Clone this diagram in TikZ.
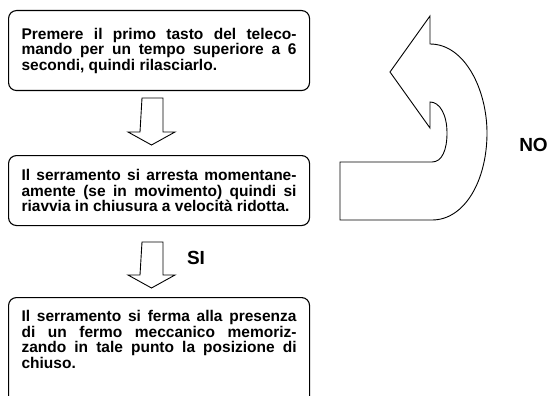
\documentclass[tikz,border=0pt]{standalone}
\usepackage{fontspec}
\setmainfont{Liberation Sans}
\usetikzlibrary{positioning}
\tikzset{
  stepbox/.style={draw, line width=1.1pt, rounded corners=8pt, anchor=north west,
    text width=275pt, align=justify, inner xsep=13pt, inner ysep=8pt,
    font=\bfseries\fontsize{15.5}{15.5}\selectfont},
  blockarrow/.style={draw, line width=0.9pt, line join=miter},
  answer/.style={font=\bfseries\fontsize{19}{20}\selectfont}
}

\begin{document}
\begin{tikzpicture}[x=1pt,y=-1pt]
        \useasboundingbox (0,0) rectangle (549,396);
        \clip (0,0) rectangle (549,396);
        % steps
        \node (s1) [stepbox, minimum height=80pt] at (8,10) {Premere il primo tasto del teleco-\linebreak mando per un tempo superiore a 6\linebreak secondi, quindi rilasciarlo.};
        \node (s2) [stepbox, minimum height=70pt] at (8,155) {Il serramento si arresta momentane-\linebreak amente (se in movimento) quindi si\linebreak riavvia in chiusura a velocit\`a ridotta.};
        \node (s3) [stepbox, inner ysep=13pt] at (8,297) {\parbox[t][90pt][t]{275pt}{Il serramento si ferma alla presenza\linebreak di un fermo meccanico memoriz-\linebreak zando in tale punto la posizione di\linebreak chiuso.}};
        % block arrows
        \coordinate (a1) at (152.5,98);
        \coordinate (a2) at (152.5,242);
        \draw [blockarrow] (a1) ++(-10.5,0) -- ++(21,0) -- ++(0,34) -- ++(12,0) -- ++(-23.5,13) -- ++(-23.5,-13) -- ++(12,0) -- cycle;
        \draw [blockarrow] (a2) ++(-10.5,0) -- ++(21,0) -- ++(0,33) -- ++(12,0) -- ++(-23.5,13) -- ++(-23.5,-13) -- ++(12,0) -- cycle;
        \node (si) [answer] at (196,258) {SI};
        % return arrow
        \coordinate (tip) at (390,72);
        \draw [blockarrow] (tip) -- (430,16) -- (430,44)
                .. controls (465,44) and (487,90) .. (487,133)
                .. controls (487,180) and (465,220) .. (432,220)
                -- (340,220) -- (340,162) -- (432,162)
                .. controls (442,162) and (447,150) .. (447,133)
                .. controls (447,115) and (440,102) .. (430,102)
                -- (430,128) -- cycle;
        \node (no) [answer] at (533.5,145) {NO};
\end{tikzpicture}
\end{document}
